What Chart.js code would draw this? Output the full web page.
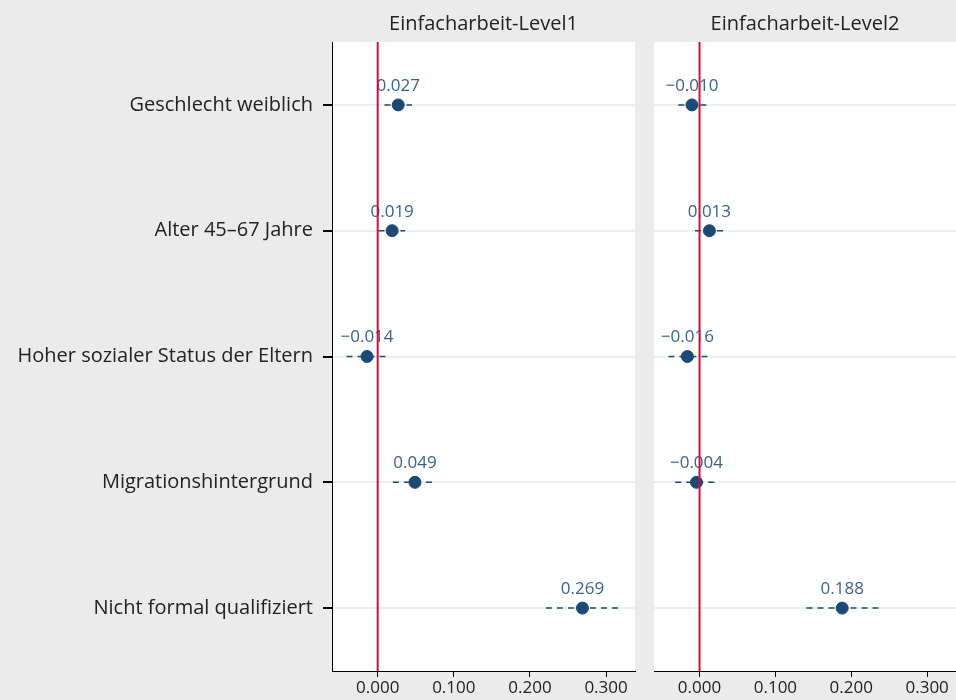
<!DOCTYPE html>
<html>
<head>
<meta charset="utf-8">
<script src="https://cdn.jsdelivr.net/npm/chart.js@4/dist/chart.umd.min.js"></script>
<style>
  html, body { margin: 0; padding: 0; background: #ebebeb; overflow: hidden; }
  body { width: 956px; height: 700px; position: relative; }
  .panel { position: absolute; top: 0; height: 700px; }
</style>
</head>
<body>
<div class="panel" style="left:0; width:640px;"><canvas id="level1"></canvas></div>
<div class="panel" style="left:654px; width:302px;"><canvas id="level2"></canvas></div>
<script>
// categories, top to bottom
var categories = [
  'Geschlecht weiblich',
  'Alter 45\u201367 Jahre',
  'Hoher sozialer Status der Eltern',
  'Migrationshintergrund',
  'Nicht formal qualifiziert'
];

// Einfacharbeit-Level1: estimates and confidence bounds
var level1Est = [0.027, 0.019, -0.014, 0.049, 0.269];
var level1Lo  = [0.009, 0.001, -0.041, 0.020, 0.221];
var level1Hi  = [0.045, 0.036,  0.011, 0.073, 0.321];

// Einfacharbeit-Level2
var level2Est = [-0.010, 0.013, -0.016, -0.004, 0.188];
var level2Lo  = [-0.028, -0.006, -0.041, -0.032, 0.141];
var level2Hi  = [ 0.009,  0.032,  0.011,  0.022, 0.236];

var xTicks = [0, 0.1, 0.2, 0.3];
var xMin = -0.06;
var xMax = 0.338;

(function() {
  'use strict';

  var FONT = '"Open Sans", "Noto Sans", sans-serif';
  var NAVY = '#1b4a74';
  var LABEL = '#3a628c';
  var RED = '#d0103a';

  function fmt(v) {
    var s = Math.abs(v).toFixed(3);
    return v < 0 ? '\u2212' + s : s;
  }

  // white plot area, panel title, value labels, zero line
  var panelPlugin = {
    id: 'panel',
    beforeDraw: function(chart) {
      var a = chart.chartArea, ctx = chart.ctx;
      ctx.save();
      ctx.fillStyle = '#ffffff';
      ctx.fillRect(a.left, a.top, a.right - a.left, a.bottom - a.top);
      ctx.fillStyle = '#222222';
      ctx.font = '20px ' + FONT;
      ctx.textAlign = 'center';
      ctx.textBaseline = 'middle';
      ctx.fillText(chart.options.plugins.panel.title, (a.left + a.right) / 2, 24);
      ctx.restore();
    },
    afterDatasetsDraw: function(chart) {
      var a = chart.chartArea, ctx = chart.ctx;
      var meta = chart.getDatasetMeta(0);
      var vals = chart.data.datasets[0].data;
      ctx.save();
      ctx.fillStyle = LABEL;
      ctx.font = '17px ' + FONT;
      ctx.textAlign = 'center';
      ctx.textBaseline = 'middle';
      meta.data.forEach(function(pt, i) {
        ctx.fillText(fmt(vals[i].x), pt.x, pt.y - 19);
      });
      var x0 = chart.scales.x.getPixelForValue(0);
      ctx.strokeStyle = RED;
      ctx.lineWidth = 2;
      ctx.beginPath();
      ctx.moveTo(x0, a.top);
      ctx.lineTo(x0, a.bottom);
      ctx.stroke();
      ctx.restore();
    }
  };

  function makeChart(id, title, est, lo, hi, showLabels) {
    var datasets = [{
      data: est.map(function(v, i) { return { x: v, y: categories[i] }; }),
      backgroundColor: NAVY,
      borderColor: NAVY,
      pointRadius: 6,
      order: 0
    }];
    categories.forEach(function(c, i) {
      datasets.push({
        data: [{ x: lo[i], y: c }, { x: hi[i], y: c }],
        showLine: true,
        borderColor: NAVY,
        borderWidth: 1.5,
        borderDash: [6, 5],
        pointRadius: 0,
        order: 1
      });
    });

    new Chart(document.getElementById(id).getContext('2d'), {
      type: 'scatter',
      data: { datasets: datasets },
      options: {
        responsive: true,
        maintainAspectRatio: false,
        animation: false,
        layout: {
          autoPadding: false,
          padding: { top: 42, right: showLabels ? 5 : 0, left: 0, bottom: 0 }
        },
        plugins: {
          legend: { display: false },
          tooltip: { enabled: false },
          panel: { title: title }
        },
        scales: {
          x: {
            type: 'linear',
            min: xMin,
            max: xMax,
            afterBuildTicks: function(s) {
              s.ticks = xTicks.map(function(v) { return { value: v }; });
            },
            afterFit: function(s) { s.height = 29; },
            grid: { drawOnChartArea: false, drawTicks: true, tickLength: 6, tickColor: '#000000' },
            border: { display: true, color: '#000000', width: 1 },
            ticks: {
              padding: 1,
              color: '#222222',
              font: { family: FONT, size: 17 },
              maxRotation: 0,
              callback: function(v) { return fmt(v); }
            }
          },
          y: {
            type: 'category',
            labels: categories,
            offset: true,
            afterFit: function(s) { s.width = showLabels ? 332 : 0; },
            grid: {
              color: '#e9eff3',
              lineWidth: 2,
              drawTicks: showLabels,
              tickLength: 9,
              tickColor: '#000000',
              offset: false
            },
            border: { display: showLabels, color: '#000000', width: 1 },
            ticks: {
              display: showLabels,
              padding: 10,
              color: '#222222',
              font: { family: FONT, size: 20 }
            }
          }
        }
      },
      plugins: [panelPlugin]
    });
  }

  makeChart('level1', 'Einfacharbeit-Level1', level1Est, level1Lo, level1Hi, true);
  makeChart('level2', 'Einfacharbeit-Level2', level2Est, level2Lo, level2Hi, false);
})();
</script>
</body>
</html>
